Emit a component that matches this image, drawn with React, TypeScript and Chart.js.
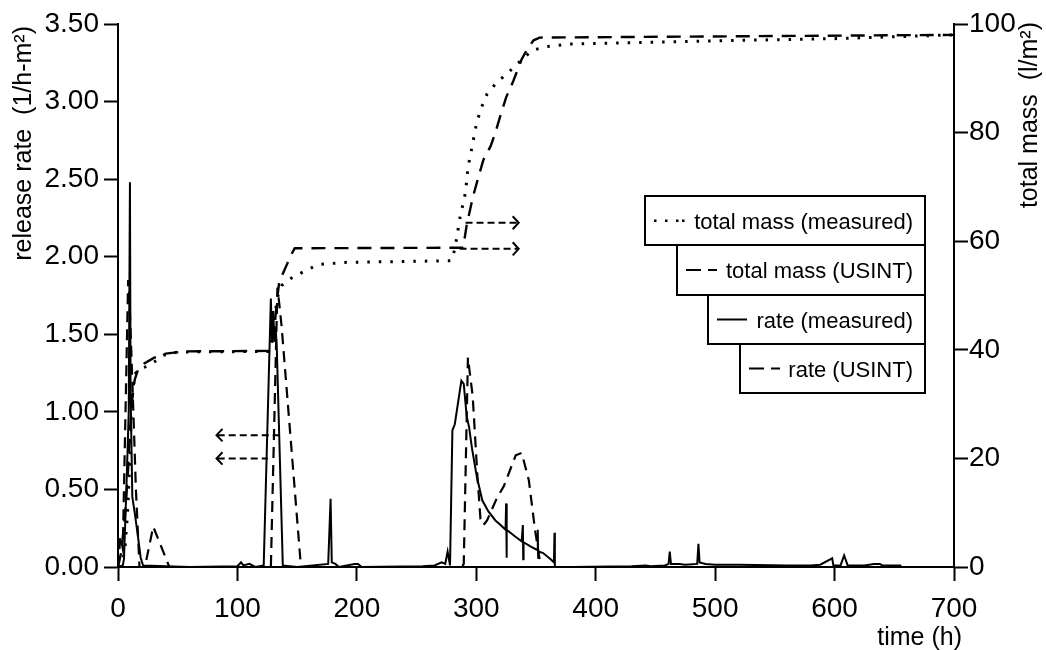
import React, { useEffect, useRef } from "react";
import { Chart, registerables } from "chart.js";

Chart.register(...registerables);

// ---- data ----
const timeTicksMax = 700;
const rateAxisMax = 3.5;
const massAxisMax = 100;

const rateMeasuredTime = [
  0, 4, 5, 7, 9, 10, 10.5, 11, 12, 14, 17, 19, 21, 60, 100, 103, 105, 110, 115,
  122, 128, 129, 130, 131, 132, 133, 138, 150, 176, 178, 179, 182, 185, 198, 201, 204,
  255, 265, 271, 274, 276, 278, 280, 282, 287.5, 289.5, 292, 294, 296.5, 300.5, 305, 310,
  316, 319, 324.5, 325, 325.3, 325.6, 332, 338, 339, 339.3, 339.6, 346, 351, 351.5, 351.8,
  352.1, 356, 363, 365, 365.5, 365.8, 380, 430, 442, 446, 458, 461, 462, 463, 470, 475,
  485, 486, 487, 492, 500, 520, 560, 580, 588, 598, 599, 605, 608, 611, 625, 633, 638,
  640, 655, 656,
];
const rateMeasuredValue = [
  0, 0.01, 0.05, 0.5, 1.0, 2.48, 1.2, 0.9, 0.45, 0.35, 0.18, 0.06, 0.01, 0.0, 0.005, 0.03, 0.01, 0.02, 0.0,
  0.01, 1.73, 1.45, 1.65, 1.45, 1.55, 1.4, 0.01, 0.0, 0.02, 0.44, 0.03, 0.02, 0.0, 0.02, 0.02, 0.0,
  0.005, 0.01, 0.03, 0.02, 0.1, 0.01, 0.88, 0.92, 1.2, 1.18, 0.97, 0.9, 0.76, 0.58, 0.43, 0.36,
  0.3, 0.28, 0.24, 0.41, 0.06, 0.24, 0.2, 0.165, 0.27, 0.05, 0.16, 0.13, 0.11, 0.24, 0.06,
  0.1, 0.09, 0.045, 0.03, 0.22, 0.0, 0.0, 0.005, 0.01, 0.005, 0.01, 0.02, 0.1, 0.02, 0.02, 0.015,
  0.02, 0.15, 0.03, 0.02, 0.015, 0.015, 0.01, 0.01, 0.015, 0.056, 0.01, 0.01, 0.075, 0.01, 0.01, 0.02, 0.02,
  0.01, 0.01, 0.0,
];

const rateUsintTime = [
  0, 2, 4, 8.5, 9.5, 12, 15, 18, 22.5, 29.5, 43, 128, 133.5, 135, 137, 153, 154,
  288, 289.5, 293, 297, 301, 303.5, 306, 309, 317, 323, 333, 338, 344, 349, 352, 354,
];
const rateUsintValue = [
  0, 0.2, 0.12, 1.85, 1.75, 1.2, 0.5, 0.0, 0.0, 0.26, 0.0, 0.0, 1.8, 1.7, 1.55, 0.02, 0.0,
  0.0, 0.02, 1.35, 1.1, 0.58, 0.31, 0.27, 0.3, 0.44, 0.52, 0.72, 0.735, 0.56, 0.25, 0.1, 0.0,
];

const massMeasuredTime = [
  0, 4, 6, 8, 10, 11, 12, 14, 18, 25, 32, 38, 50, 126, 128, 130, 132, 134, 137, 140, 146,
  152, 159, 168, 190, 279, 282, 286.5, 291, 293, 296.5, 300.5, 305, 309, 317, 327, 335.5,
  346.5, 357.5, 377, 500, 600, 700,
];
const massMeasuredValue = [
  0, 1, 4, 10, 20, 27, 32, 35.5, 36.5, 37, 38, 39, 39.6, 39.7, 41, 44, 47.5, 50, 51.8, 52.5, 53.3,
  54, 54.8, 55.7, 56.1, 56.4, 58.5, 64.5, 69, 73.5, 77.5, 82, 85, 87.1, 89.2, 91.1, 92.9,
  95.1, 95.8, 96.3, 96.9, 97.3, 98,
];

const massUsintTime = [
  0, 3, 6, 8.5, 10, 12, 14, 17, 22, 30, 40, 55, 128, 131, 133, 135, 138, 141, 145, 148,
  289, 292, 297, 302, 306, 312, 316, 320, 325, 331, 338, 343, 348, 353, 700,
];
const massUsintValue = [
  0, 3, 10, 18, 25, 31, 34.5, 36.5, 37.5, 38.5, 39.3, 39.7, 39.8, 44, 49, 52.5, 54, 55.5, 57.5, 58.7,
  58.8, 63, 68, 72, 75, 77.5, 80, 83, 86.5, 89.5, 93.5, 95.5, 97, 97.5, 98,
];

// annotation arrows: left-pointing on the rate axis, right-pointing on the mass axis
const leftArrowRate = [0.85, 0.7];
const leftArrowTip = [82.5, 82.5];
const leftArrowEnd = [135, 125.5];
const rightArrowMass = [63.4, 58.6];
const rightArrowStart = [291, 286];
const rightArrowTip = [335.5, 335.5];

const legendLabels = [
  "total mass (measured)",
  "total mass (USINT)",
  "rate (measured)",
  "rate (USINT)",
];

const titleLeft = "release rate  (1/h-m²)";
const titleRight = "total mass  (l/m²)";
const titleX = "time (h)";

const zip = (xs: number[], ys: number[]) => xs.map((x, i) => ({ x, y: ys[i] }));

const AXIS_FONT = "'Liberation Sans', Arial, sans-serif";

const overlayPlugin = {
  id: "overlay",
  afterDraw(chart: any) {
    const ctx = chart.ctx as CanvasRenderingContext2D;
    ctx.save();
    ctx.fillStyle = "#000";
    ctx.strokeStyle = "#000";
    // axis titles
    ctx.font = `25px ${AXIS_FONT}`;
    ctx.textBaseline = "alphabetic";
    ctx.save();
    ctx.translate(31, 26);
    ctx.rotate(-Math.PI / 2);
    ctx.textAlign = "right";
    ctx.fillText(titleLeft, 0, 0);
    ctx.restore();
    ctx.save();
    ctx.translate(1037, 22);
    ctx.rotate(-Math.PI / 2);
    ctx.textAlign = "right";
    ctx.fillText(titleRight, 0, 0);
    ctx.restore();
    ctx.textAlign = "right";
    ctx.fillText(titleX, 962, 645);

    // legend: staggered boxes
    const right = 925;
    const boxes = [
      { x: 645, y: 196, h: 49 },
      { x: 677, y: 245, h: 50 },
      { x: 708, y: 295, h: 49 },
      { x: 740, y: 344, h: 49 },
    ];
    ctx.font = `22px ${AXIS_FONT}`;
    boxes.forEach((b, i) => {
      ctx.fillStyle = "#fff";
      ctx.fillRect(b.x, b.y, right - b.x, b.h);
      ctx.lineWidth = 2;
      ctx.setLineDash([]);
      ctx.strokeRect(b.x, b.y, right - b.x, b.h);
      ctx.fillStyle = "#000";
      ctx.textAlign = "right";
      const cy = b.y + b.h / 2;
      ctx.fillText(legendLabels[i], 913, cy + 8);
      ctx.lineWidth = 2;
      ctx.beginPath();
      const sx = b.x + 9;
      if (i === 0) {
        [0, 11, 22, 28].forEach((d) => ctx.fillRect(sx + d, cy - 1, 2.5, 2.5));
      } else if (i === 1 || i === 3) {
        ctx.moveTo(sx, cy);
        ctx.lineTo(sx + 15, cy);
        ctx.moveTo(sx + 22, cy);
        ctx.lineTo(sx + 31, cy);
        ctx.stroke();
      } else {
        ctx.moveTo(sx, cy);
        ctx.lineTo(sx + 30, cy);
        ctx.stroke();
      }
    });
    ctx.restore();
  },
};

export default function App() {
  const ref = useRef<HTMLCanvasElement | null>(null);

  useEffect(() => {
    if (!ref.current) return;
    const black = "#000";
    const arrowSets: any[] = [];
    leftArrowRate.forEach((v, i) => {
      arrowSets.push({
        data: [
          { x: leftArrowTip[i] + 1, y: v },
          { x: leftArrowEnd[i], y: v },
        ],
        yAxisID: "y",
        borderColor: black,
        borderWidth: 2,
        borderDash: [7, 4],
        pointRadius: 0,
      });
      arrowSets.push({
        data: [
          { x: leftArrowTip[i] + 5, y: v + 0.04 },
          { x: leftArrowTip[i], y: v },
          { x: leftArrowTip[i] + 5, y: v - 0.04 },
        ],
        yAxisID: "y",
        borderColor: black,
        borderWidth: 2,
        pointRadius: 0,
      });
    });
    rightArrowMass.forEach((m, i) => {
      arrowSets.push({
        data: [
          { x: rightArrowStart[i], y: m },
          { x: rightArrowTip[i] - 1, y: m },
        ],
        yAxisID: "y2",
        borderColor: black,
        borderWidth: 2,
        borderDash: [7, 4],
        pointRadius: 0,
      });
      arrowSets.push({
        data: [
          { x: rightArrowTip[i] - 5, y: m + 1.2 },
          { x: rightArrowTip[i], y: m },
          { x: rightArrowTip[i] - 5, y: m - 1.2 },
        ],
        yAxisID: "y2",
        borderColor: black,
        borderWidth: 2,
        pointRadius: 0,
      });
    });

    const chart = new Chart(ref.current, {
      type: "line",
      data: {
        datasets: [
          {
            label: legendLabels[0],
            data: zip(massMeasuredTime, massMeasuredValue),
            yAxisID: "y2",
            borderColor: black,
            borderWidth: 3,
            borderDash: [2.5, 9],
            pointRadius: 0,
          },
          {
            label: legendLabels[1],
            data: zip(massUsintTime, massUsintValue),
            yAxisID: "y2",
            borderColor: black,
            borderWidth: 2.4,
            borderDash: [14, 9],
            pointRadius: 0,
          },
          {
            label: legendLabels[2],
            data: zip(rateMeasuredTime, rateMeasuredValue),
            yAxisID: "y",
            borderColor: black,
            borderWidth: 2,
            pointRadius: 0,
          },
          {
            label: legendLabels[3],
            data: zip(rateUsintTime, rateUsintValue),
            yAxisID: "y",
            borderColor: black,
            borderWidth: 2.2,
            borderDash: [11, 7],
            pointRadius: 0,
          },
          ...arrowSets,
        ],
      },
      options: {
        animation: false,
        responsive: false,
        devicePixelRatio: 1,
        parsing: true,
        layout: { padding: { top: 24, left: 0, right: 0, bottom: 0 } },
        elements: { line: { tension: 0 } },
        plugins: {
          legend: { display: false },
          tooltip: { enabled: false },
          title: { display: false },
        },
        scales: {
          x: {
            type: "linear",
            min: 0,
            max: timeTicksMax,
            afterFit: (s: any) => {
              s.height = 83;
            },
            ticks: {
              stepSize: 100,
              color: black,
              padding: 11,
              maxRotation: 0,
              font: { family: AXIS_FONT, size: 28 },
            },
            grid: {
              drawOnChartArea: false,
              tickLength: 14,
              tickColor: black,
              tickWidth: 2,
            },
            border: { color: black, width: 2 },
          },
          y: {
            type: "linear",
            position: "left",
            min: 0,
            max: rateAxisMax,
            afterFit: (s: any) => {
              s.width = 118;
            },
            ticks: {
              stepSize: 0.5,
              color: black,
              padding: 5,
              callback: (v: any) => Number(v).toFixed(2),
              font: { family: AXIS_FONT, size: 28 },
            },
            grid: {
              drawOnChartArea: false,
              tickLength: 14,
              tickColor: black,
              tickWidth: 2,
            },
            border: { color: black, width: 2 },
          },
          y2: {
            type: "linear",
            position: "right",
            min: 0,
            max: massAxisMax,
            afterFit: (s: any) => {
              s.width = 92;
            },
            ticks: {
              stepSize: 20,
              color: black,
              padding: 1,
              font: { family: AXIS_FONT, size: 28 },
            },
            grid: {
              drawOnChartArea: false,
              tickLength: 14,
              tickColor: black,
              tickWidth: 2,
            },
            border: { color: black, width: 2 },
          },
        },
      },
      plugins: [overlayPlugin],
    });
    return () => chart.destroy();
  }, []);

  return (
    <div style={{ position: "absolute", left: 0, top: 0, width: 1046, height: 650, background: "#fff" }}>
      <canvas ref={ref} width={1046} height={650} style={{ display: "block", width: 1046, height: 650 }} />
    </div>
  );
}
